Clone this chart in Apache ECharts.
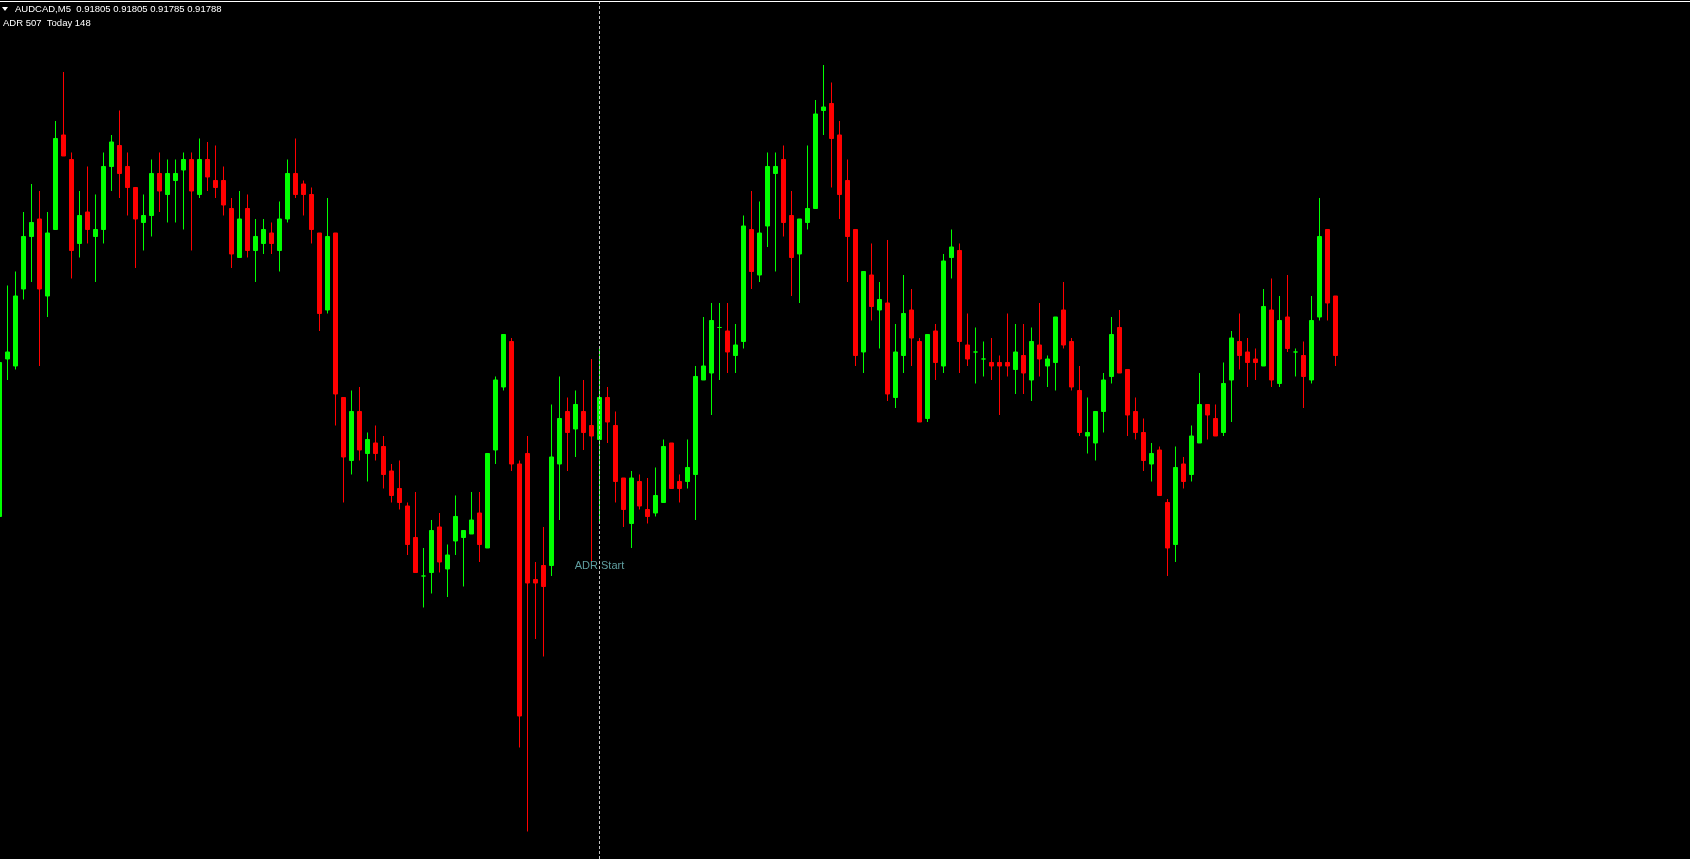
<!DOCTYPE html>
<html><head><meta charset="utf-8">
<script src="https://cdn.jsdelivr.net/npm/echarts@6/dist/echarts.min.js"></script>
<style>html,body{margin:0;padding:0;background:#000;overflow:hidden}#chart{width:1690px;height:859px}</style>
</head><body><div id="chart"></div>
<script>
const symbolName = 'AUDCAD,M5';
const lastQuote = ['0.91805', '0.91805', '0.91785', '0.91788'];
const adrText = 'ADR 507  Today 148';
const adrLabel = 'ADR Start';
const adrStartIndex = 75;
const adrLabelPrice = 0.91728;

const open = [0.91742,0.91787,0.91785,0.91807,0.91822,0.91827,0.91805,0.91824,0.91851,0.91844,
0.91820,0.91829,0.91822,0.91824,0.91842,0.91848,0.91842,0.91836,0.91826,0.91828,
0.91840,0.91834,0.91838,0.91841,0.91844,0.91834,0.91844,0.91838,0.91838,0.91830,
0.91816,0.91830,0.91818,0.91820,0.91823,0.91818,0.91827,0.91840,0.91837,0.91834,
0.91823,0.91801,0.91823,0.91776,0.91758,0.91772,0.91760,0.91763,0.91762,0.91755,
0.91750,0.91745,0.91736,0.91725,0.91726,0.91739,0.91727,0.91735,0.91736,0.91737,
0.91743,0.91733,0.91761,0.91779,0.91792,0.91757,0.91760,0.91724,0.91728,0.91728,
0.91757,0.91772,0.91767,0.91772,0.91768,0.91764,0.91776,0.91768,0.91753,0.91740,
0.91752,0.91744,0.91743,0.91746,0.91763,0.91752,0.91752,0.91754,0.91781,0.91783,
0.91796,0.91795,0.91788,0.91792,0.91824,0.91811,0.91825,0.91840,0.91844,0.91828,
0.91817,0.91826,0.91830,0.91858,0.91860,0.91851,0.91838,0.91824,0.91789,0.91811,
0.91801,0.91803,0.91776,0.91788,0.91801,0.91792,0.91770,0.91795,0.91785,0.91816,
0.91818,0.91791,0.91789,0.91787,0.91786,0.91786,0.91786,0.91784,0.91788,0.91781,
0.91791,0.91785,0.91786,0.91801,0.91792,0.91778,0.91765,0.91763,0.91772,0.91782,
0.91796,0.91784,0.91772,0.91766,0.91757,0.91761,0.91746,0.91734,0.91757,0.91754,
0.91763,0.91774,0.91770,0.91766,0.91781,0.91792,0.91789,0.91787,0.91785,0.91801,
0.91780,0.91799,0.91789,0.91788,0.91781,0.91799,0.91824,0.91805];

const high = [0.91786,0.91808,0.91812,0.91829,0.91837,0.91835,0.91829,0.91855,0.91869,0.91846,
0.91835,0.91842,0.91834,0.91846,0.91851,0.91858,0.91846,0.91836,0.91834,0.91844,
0.91846,0.91844,0.91844,0.91846,0.91846,0.91850,0.91849,0.91848,0.91842,0.91833,
0.91835,0.91834,0.91827,0.91827,0.91826,0.91832,0.91844,0.91850,0.91838,0.91836,
0.91823,0.91833,0.91823,0.91776,0.91778,0.91779,0.91766,0.91768,0.91765,0.91757,
0.91758,0.91746,0.91749,0.91733,0.91741,0.91743,0.91734,0.91748,0.91738,0.91749,
0.91749,0.91760,0.91782,0.91794,0.91793,0.91758,0.91765,0.91729,0.91739,0.91774,
0.91782,0.91776,0.91778,0.91781,0.91787,0.91790,0.91779,0.91772,0.91753,0.91755,
0.91754,0.91753,0.91756,0.91764,0.91763,0.91754,0.91764,0.91785,0.91799,0.91803,
0.91803,0.91803,0.91797,0.91828,0.91835,0.91832,0.91846,0.91846,0.91848,0.91835,
0.91827,0.91848,0.91861,0.91871,0.91866,0.91855,0.91844,0.91824,0.91812,0.91820,
0.91809,0.91821,0.91797,0.91811,0.91807,0.91793,0.91794,0.91797,0.91817,0.91824,
0.91820,0.91800,0.91796,0.91792,0.91793,0.91788,0.91800,0.91797,0.91797,0.91796,
0.91803,0.91788,0.91799,0.91809,0.91793,0.91785,0.91776,0.91772,0.91783,0.91799,
0.91801,0.91784,0.91776,0.91770,0.91763,0.91762,0.91747,0.91762,0.91759,0.91768,
0.91783,0.91774,0.91774,0.91786,0.91795,0.91800,0.91793,0.91790,0.91807,0.91810,
0.91805,0.91811,0.91790,0.91792,0.91805,0.91833,0.91824,0.91805];

const low = [0.91742,0.91781,0.91784,0.91804,0.91809,0.91785,0.91799,0.91824,0.91845,0.91810,
0.91816,0.91820,0.91809,0.91820,0.91835,0.91833,0.91828,0.91813,0.91818,0.91822,
0.91829,0.91826,0.91826,0.91824,0.91818,0.91833,0.91835,0.91833,0.91828,0.91813,
0.91816,0.91816,0.91809,0.91817,0.91817,0.91812,0.91826,0.91833,0.91828,0.91820,
0.91795,0.91800,0.91768,0.91746,0.91754,0.91758,0.91752,0.91758,0.91750,0.91746,
0.91744,0.91731,0.91726,0.91716,0.91720,0.91726,0.91719,0.91731,0.91722,0.91737,
0.91729,0.91733,0.91757,0.91778,0.91755,0.91676,0.91652,0.91707,0.91702,0.91725,
0.91741,0.91755,0.91759,0.91761,0.91729,0.91740,0.91763,0.91746,0.91739,0.91733,
0.91744,0.91740,0.91742,0.91746,0.91750,0.91746,0.91750,0.91741,0.91781,0.91771,
0.91781,0.91783,0.91783,0.91790,0.91807,0.91809,0.91819,0.91812,0.91822,0.91805,
0.91803,0.91824,0.91830,0.91851,0.91836,0.91827,0.91809,0.91785,0.91783,0.91798,
0.91790,0.91775,0.91773,0.91783,0.91785,0.91769,0.91769,0.91781,0.91783,0.91810,
0.91783,0.91785,0.91780,0.91782,0.91781,0.91771,0.91782,0.91777,0.91777,0.91775,
0.91782,0.91779,0.91778,0.91790,0.91778,0.91765,0.91760,0.91758,0.91766,0.91780,
0.91783,0.91765,0.91764,0.91755,0.91752,0.91748,0.91725,0.91729,0.91750,0.91752,
0.91763,0.91764,0.91765,0.91765,0.91769,0.91784,0.91779,0.91781,0.91785,0.91779,
0.91779,0.91789,0.91782,0.91773,0.91780,0.91798,0.91798,0.91785];

const close = [0.91786,0.91789,0.91805,0.91822,0.91826,0.91807,0.91823,0.91850,0.91845,0.91818,
0.91828,0.91824,0.91824,0.91842,0.91849,0.91840,0.91836,0.91827,0.91828,0.91840,
0.91835,0.91840,0.91840,0.91844,0.91835,0.91844,0.91839,0.91836,0.91831,0.91817,
0.91827,0.91818,0.91822,0.91824,0.91820,0.91827,0.91840,0.91834,0.91834,0.91824,
0.91800,0.91822,0.91777,0.91759,0.91772,0.91761,0.91764,0.91760,0.91754,0.91748,
0.91746,0.91734,0.91726,0.91725,0.91738,0.91729,0.91731,0.91742,0.91738,0.91741,
0.91734,0.91760,0.91781,0.91794,0.91757,0.91685,0.91723,0.91723,0.91722,0.91759,
0.91770,0.91766,0.91774,0.91766,0.91765,0.91776,0.91769,0.91752,0.91744,0.91753,
0.91745,0.91742,0.91748,0.91762,0.91750,0.91750,0.91756,0.91782,0.91785,0.91798,
0.91796,0.91789,0.91791,0.91825,0.91812,0.91823,0.91842,0.91842,0.91826,0.91816,
0.91827,0.91830,0.91857,0.91859,0.91850,0.91834,0.91822,0.91788,0.91812,0.91802,
0.91804,0.91777,0.91789,0.91800,0.91793,0.91769,0.91794,0.91786,0.91815,0.91819,
0.91792,0.91787,0.91789,0.91787,0.91785,0.91785,0.91785,0.91789,0.91783,0.91792,
0.91787,0.91787,0.91799,0.91791,0.91779,0.91766,0.91766,0.91772,0.91781,0.91794,
0.91783,0.91771,0.91766,0.91758,0.91760,0.91748,0.91733,0.91756,0.91752,0.91765,
0.91774,0.91771,0.91765,0.91780,0.91793,0.91788,0.91786,0.91786,0.91802,0.91781,
0.91798,0.91790,0.91789,0.91782,0.91798,0.91822,0.91803,0.91788];

// bar index (x) of each candle; the view spans bar positions 0.0625 .. 211.3125 (8 px per bar)
const candles = open.map((o, i) => [i, o, close[i], low[i], high[i]]);

const chart = echarts.init(document.getElementById('chart'), null, {renderer: 'canvas'});
chart.setOption({
  backgroundColor: '#000000',
  animation: false,
  grid: {left: 0, right: 0, top: 0, bottom: 0, containLabel: false},
  xAxis: {
    type: 'value', min: 0.0625, max: 211.3125,
    axisLine: {show: false}, axisTick: {show: false}, axisLabel: {show: false}, splitLine: {show: false}
  },
  yAxis: {
    type: 'value', min: 0.9164414, max: 0.9188957,
    axisLine: {show: false}, axisTick: {show: false}, axisLabel: {show: false}, splitLine: {show: false}
  },
  series: [{
    type: 'candlestick',
    data: candles,
    encode: {x: 0, y: [1, 2, 3, 4]},
    barWidth: 4,
    itemStyle: {
      color: '#00ff00', color0: '#ff0000',
      borderColor: '#00ff00', borderColor0: '#ff0000', borderColorDoji: '#00ff00',
      borderWidth: 1
    },
    markLine: {
      silent: true, symbol: ['none', 'none'], animation: false,
      label: {show: false},
      lineStyle: {color: '#c0c0c0', type: [3, 2], width: 1},
      data: [{xAxis: adrStartIndex}]
    },
    markPoint: {
      silent: true, animation: false,
      symbol: 'rect', symbolSize: 1,
      itemStyle: {color: 'rgba(0,0,0,0)'},
      label: {show: true, formatter: adrLabel, position: 'inside', color: '#5f9ea0', fontSize: 11, fontFamily: 'Liberation Sans'},
      data: [{coord: [adrStartIndex, adrLabelPrice]}]
    }
  }],
  graphic: [
    {type: 'rect', shape: {x: 0, y: 1, width: 1690, height: 1}, style: {fill: '#ffffff'}, z: 100},
    {type: 'polygon', shape: {points: [[2, 7], [8, 7], [5, 11]]}, style: {fill: '#ffffff'}, z: 100},
    {type: 'text', x: 15, y: 9.5, z: 100, style: {text: symbolName + '  ' + lastQuote.join(' '), fill: '#ffffff', fontSize: 9.5, fontFamily: 'Liberation Sans', verticalAlign: 'middle'}},
    {type: 'text', x: 3, y: 23, z: 100, style: {text: adrText, fill: '#ffffff', fontSize: 9.5, fontFamily: 'Liberation Sans', verticalAlign: 'middle'}}
  ]
});
</script></body></html>
